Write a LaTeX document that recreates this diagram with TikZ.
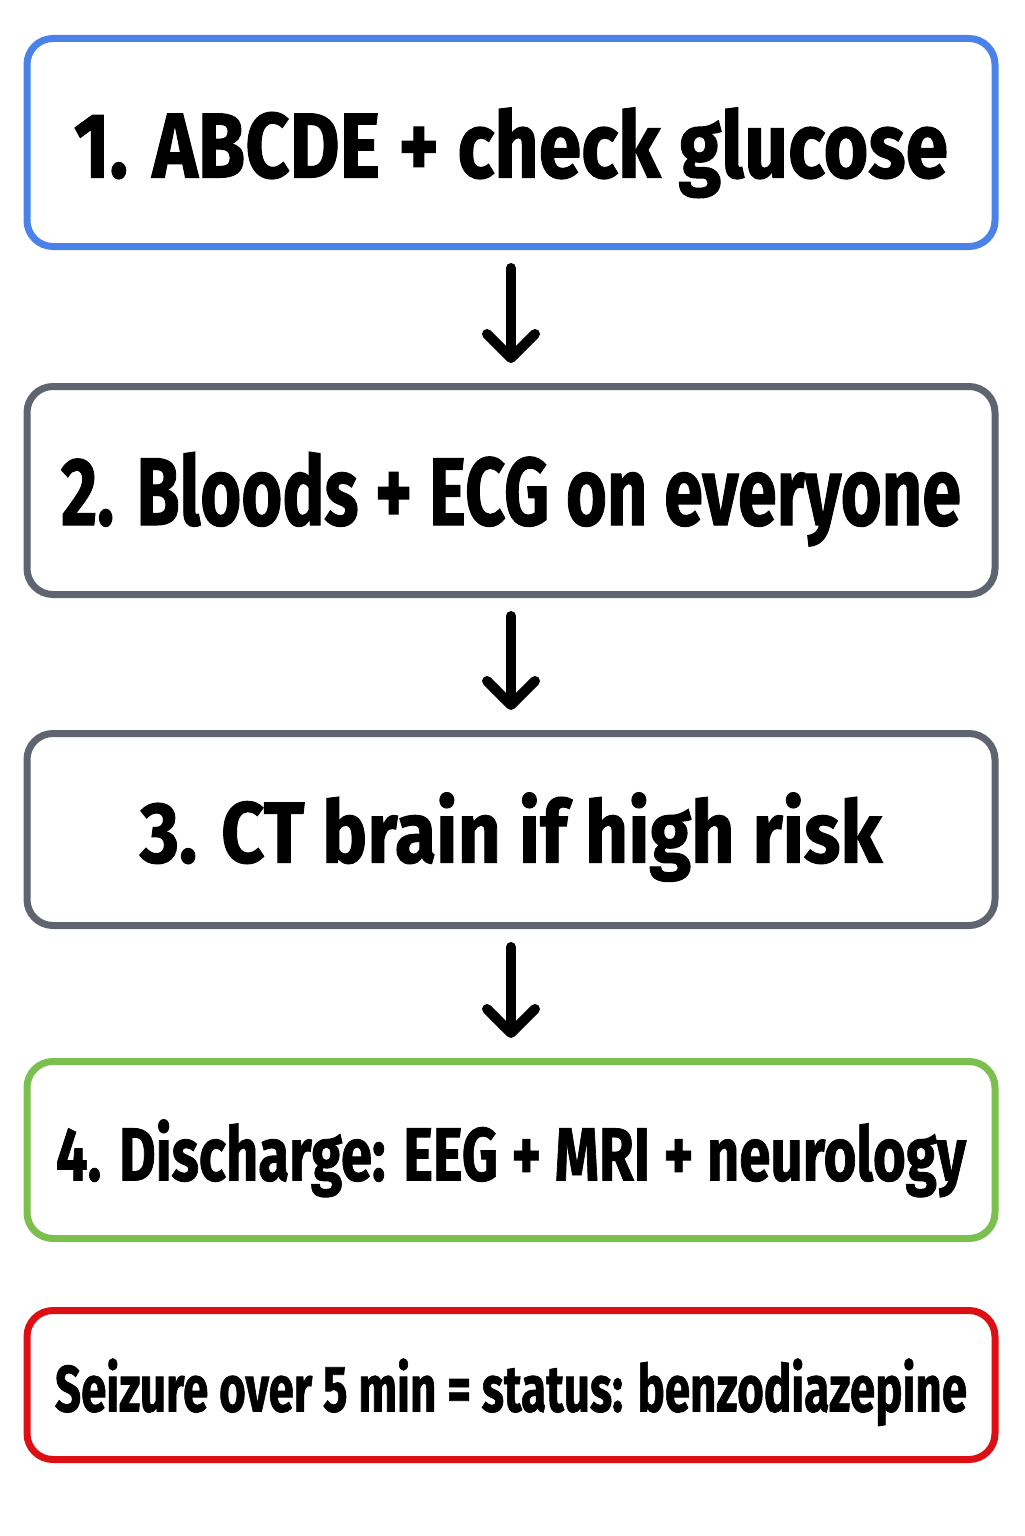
\documentclass[tikz,border=0pt]{standalone}
\usepackage{fontspec}
\setmainfont{Fira Sans}[BoldFeatures={FakeBold=1.2}]
\usepackage{graphicx}
\usetikzlibrary{arrows.meta,positioning}

\definecolor{stepblue}{HTML}{4A82EA}
\definecolor{stepgray}{HTML}{5E6470}
\definecolor{stepgreen}{HTML}{7BC04E}
\definecolor{stepred}{HTML}{DC1014}

% squeeze a label to the size it has in the chart
\newcommand{\fitlabel}[3]{\resizebox{#1}{#2}{\bfseries #3}}

\tikzset{
  stepbox/.style={draw, line width=3.5pt, rounded corners=13pt, fill=white,
    minimum width=484pt, text depth=0pt, inner sep=0pt},
  flow/.style={->, line width=5pt, line cap=round,
    shorten <=9pt, shorten >=10pt}
}

\begin{document}
\begin{tikzpicture}[x=0.5pt, y=-0.5pt, >={Straight Barb[length=12pt,width=24pt,round]}]
  \useasboundingbox (0,0) rectangle (1024,1536);

  \node[stepbox, draw=stepblue, minimum height=104pt] (s1) at (511,142.5)
    {\fitlabel{437pt}{35pt}{1. ABCDE + check glucose}};
  \node[stepbox, draw=stepgray, minimum height=104pt] (s2) [below=66.5pt of s1]
    {\raisebox{2pt}{\fitlabel{450pt}{36.5pt}{2. Bloods + ECG on everyone}}};
  \node[stepbox, draw=stepgray, minimum height=96pt] (s3) [below=66pt of s2]
    {\raisebox{2pt}{\fitlabel{371pt}{35pt}{3. CT brain if high risk}}};
  \node[stepbox, draw=stepgreen, minimum height=88.5pt] (s4) [below=64.5pt of s3]
    {\fitlabel{455pt}{30.5pt}{4. Discharge: EEG + MRI + neurology}};
  \node[stepbox, draw=stepred, minimum height=74.5pt] (warn) [below=32.5pt of s4]
    {\fitlabel{456pt}{26.5pt}{Seizure over 5 min = status: benzodiazepine}};

  \draw[flow] (s1) -- (s2);
  \draw[flow] (s2) -- (s3);
  \draw[flow] (s3) -- (s4);
\end{tikzpicture}
\end{document}
